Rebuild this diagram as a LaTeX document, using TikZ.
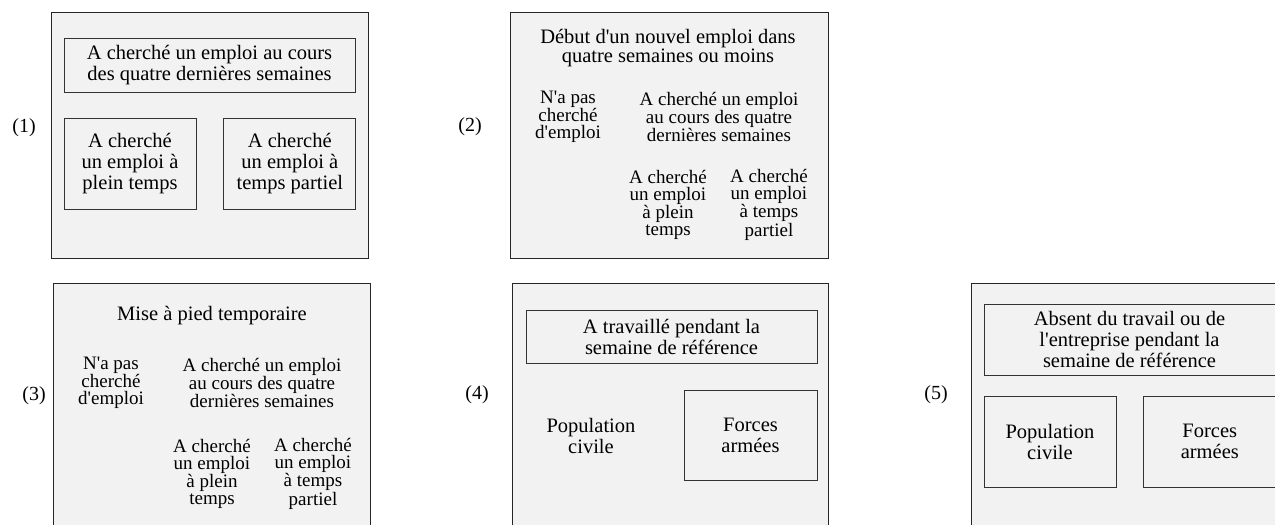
\documentclass[tikz,border=0pt]{standalone}
\usepackage{fontspec}
\setmainfont{Liberation Serif}
\usetikzlibrary{positioning}
\definecolor{panelgrey}{gray}{0.95}
\newcommand*{\apos}{\textquotesingle}

\begin{document}
\begin{tikzpicture}[x=1pt,y=-1pt]

\tikzset{panel/.style={draw=black!85,fill=panelgrey,line width=0.8pt,inner sep=0pt},
innerbox/.style={draw=black!80,fill=panelgrey,line width=0.8pt,inner sep=0pt,align=center,font=\fontsize{20.5}{21}\selectfont},
widetext/.style={inner sep=0pt,align=center,font=\fontsize{20.5}{21}\selectfont},
titletext/.style={inner sep=0pt,align=center,font=\fontsize{20.5}{16.5}\selectfont},
tighttext/.style={inner sep=0pt,align=center,font=\fontsize{19}{16.7}\selectfont},
numlabel/.style={inner sep=0pt,font=\fontsize{20}{21}\selectfont}}

\useasboundingbox (0,0) rectangle (1275,525);
\clip (0,0) rectangle (1275,525);

% Panel (1)
\node[numlabel] (n1) at (24,128) {(1)};
\node[panel,minimum width=317pt,minimum height=246pt] (p1) at (209.5,135) {};
\node[innerbox,minimum width=291pt,minimum height=54pt] (p1top) at (209.5,65) {A cherché un emploi au cours\\des quatre dernières semaines};
\node[innerbox,minimum width=132pt,minimum height=91pt] (p1plein) at (130,163.5) {A cherché\\un emploi à\\plein temps};
\node[innerbox,minimum width=132pt,minimum height=91pt,right=27pt of p1plein] (p1partiel) {A cherché\\un emploi à\\temps partiel};

% Panel (2)
\node[numlabel] (n2) at (470,127) {(2)};
\node[panel,minimum width=318pt,minimum height=246pt] (p2) at (669,135) {};
\node[titletext] (p2title) at (668,48) {Début d\apos un nouvel emploi dans\\quatre semaines ou moins};
\node[tighttext] (p2pas) at (568,117) {N\apos a pas\\cherché\\d\apos emploi};
\node[tighttext] (p2cherche) at (719,117) {A cherché un emploi\\au cours des quatre\\dernières semaines};
\node[tighttext] (p2plein) at (668,205) {A cherché\\un emploi\\à plein\\temps};
\node[tighttext] (p2partiel) at (769,205) {A cherché\\un emploi\\à temps\\partiel};

% Panel (3)
\node[numlabel] (n3) at (34,396) {(3)};
\node[panel,minimum width=317pt,minimum height=260pt] (p3) at (211.5,413) {};
\node[widetext] (p3title) at (212,316) {Mise à pied temporaire};
\node[tighttext] (p3pas) at (111,383) {N\apos a pas\\cherché\\d\apos emploi};
\node[tighttext] (p3cherche) at (262,383) {A cherché un emploi\\au cours des quatre\\dernières semaines};
\node[tighttext] (p3plein) at (212,474) {A cherché\\un emploi\\à plein\\temps};
\node[tighttext] (p3partiel) at (313,474) {A cherché\\un emploi\\à temps\\partiel};

% Panel (4)
\node[numlabel] (n4) at (477,395) {(4)};
\node[panel,minimum width=316pt,minimum height=260pt] (p4) at (670,413) {};
\node[innerbox,minimum width=291pt,minimum height=53pt] (p4top) at (671.5,336.5) {A travaillé pendant la\\semaine de référence};
\node[widetext] (p4civ) at (591,436) {Population\\civile};
\node[innerbox,minimum width=133pt,minimum height=90pt] (p4arm) at (750.5,435) {Forces\\armées};

% Panel (5)
\node[numlabel] (n5) at (936,395) {(5)};
\node[panel,minimum width=317pt,minimum height=260pt] (p5) at (1129.5,413) {};
\node[innerbox,minimum width=291pt,minimum height=71pt] (p5top) at (1129.5,339.5) {Absent du travail ou de\\l\apos entreprise pendant la\\semaine de référence};
\node[innerbox,minimum width=132pt,minimum height=91pt] (p5civ) at (1050,441.5) {Population\\civile};
\node[innerbox,minimum width=132pt,minimum height=91pt,right=27pt of p5civ] (p5arm) {Forces\\armées};

\end{tikzpicture}
\end{document}
